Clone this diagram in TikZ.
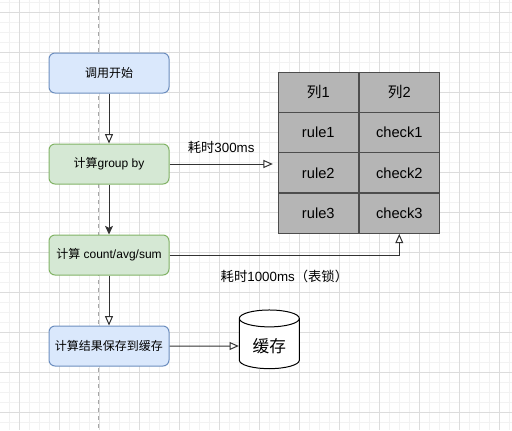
\documentclass[tikz,border=0pt]{standalone}
\usepackage{fontspec}
\setmainfont{Liberation Sans}
\newfontfamily\cjk{Noto Sans CJK SC}
\usepackage{tikz}
\usetikzlibrary{matrix,positioning,arrows.meta,shapes.geometric}
\definecolor{blueFill}{HTML}{DAE8FC}
\definecolor{blueLine}{HTML}{6C8EBF}
\definecolor{greenFill}{HTML}{D5E8D4}
\definecolor{greenLine}{HTML}{82B366}
\definecolor{tableFill}{HTML}{B5B5B5}
\definecolor{tableLine}{HTML}{4D4D4D}
\definecolor{flowLine}{HTML}{333333}
\definecolor{gridMinor}{HTML}{F2F2F2}
\definecolor{gridMajor}{HTML}{DCDCDC}

\begin{document}
\begin{tikzpicture}[x=0.75pt,y=-0.75pt,font=\fontsize{9pt}{11pt}\selectfont,
	stepbox/.style={draw, rounded corners=4.5pt, line width=0.75pt, minimum width=90pt, minimum height=30pt},
	bluebox/.style={stepbox, fill=blueFill, draw=blueLine},
	greenbox/.style={stepbox, fill=greenFill, draw=greenLine},
	cell/.style={draw=tableLine, fill=tableFill, line width=0.75pt, minimum width=60.4pt, minimum height=30pt, font=\fontsize{11pt}{13pt}\selectfont},
	cachebox/.style={cylinder, shape border rotate=90, aspect=0.4, draw=black, fill=white, line width=0.75pt, minimum width=45pt, minimum height=44pt, font=\cjk\fontsize{12.5pt}{15pt}\selectfont},
	flow/.style={draw=flowLine, line width=0.75pt, -{Triangle[open, length=7pt, width=6pt, fill=white]}},
	flowfill/.style={draw=flowLine, line width=0.75pt, -{Stealth[length=6.5pt, width=6pt, inset=1.5pt]}}]
	
	\useasboundingbox (0,0) rectangle (512,430);
	\fill[white] (0,0) rectangle (512,430);
	% grid
	\foreach \gx in {9.3,19.3,...,509.3} \draw[gridMinor, line width=0.75pt] (\gx,0) -- (\gx,430);
	\foreach \gy in {2.2,12.2,...,429} \draw[gridMinor, line width=0.75pt] (0,\gy) -- (512,\gy);
	\foreach \gx in {19.3,59.3,...,509.3} \draw[gridMajor, line width=0.75pt] (\gx,0) -- (\gx,430);
	\foreach \gy in {12.2,52.2,...,429} \draw[gridMajor, line width=0.75pt] (0,\gy) -- (512,\gy);
	\draw[gray!70, line width=0.75pt, dash pattern=on 3pt off 3pt] (98.5,0) -- (98.5,430);
	
	% steps
	\node[bluebox] (start) at (109,73) {\cjk 调用开始};
	\node[greenbox, below=37.5pt of start] (groupby) {{\cjk 计算}group by};
	\node[greenbox, below=37.5pt of groupby] (calc) {{\cjk 计算} count/avg/sum};
	\node[bluebox, below=37.5pt of calc] (save) {\cjk 计算结果保存到缓存};
	\node[cachebox, right=52pt of save] (cache) {缓存};
	
	% table
	\matrix (tbl) at (358.8,152.7) [matrix of nodes, row sep=-\pgflinewidth, column sep=-\pgflinewidth, nodes={cell}]
	{
		{\cjk 列}1 & {\cjk 列}2\\
		rule1 & check1\\
		rule2 & check2\\
		rule3 & check3\\
	};
	
	\draw[flow] (start) -- (groupby);
	\draw[flowfill] (groupby) -- (calc);
	\draw[flow] (calc) -- (save);
	\draw[flow] (save) -- (cache);
	\draw[flow] (groupby.east) -- (groupby.east -| tbl.west) node[midway, above=4pt, font=\fontsize{10pt}{12pt}\selectfont]{{\cjk 耗时}300ms};
	\draw[flow] (calc.east) -| (tbl-4-2.south) node[pos=0.25, below=7.5pt, font=\fontsize{10pt}{12pt}\selectfont]{{\cjk 耗时}1000ms{\cjk （表锁）}};
\end{tikzpicture}
\end{document}
